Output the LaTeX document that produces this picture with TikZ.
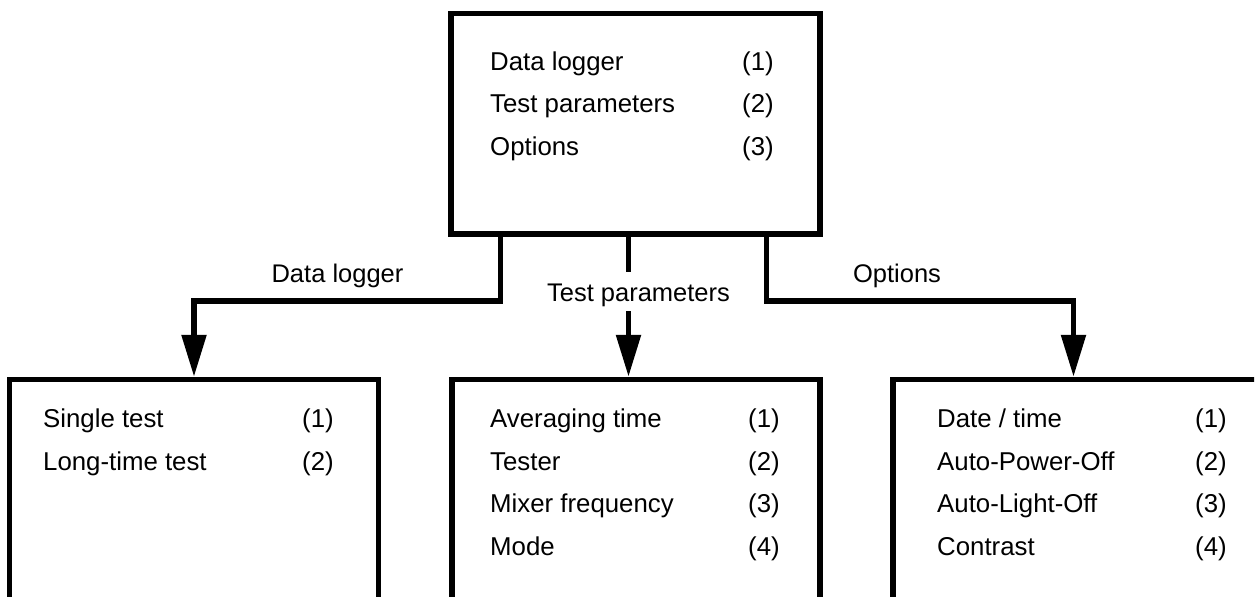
\documentclass[tikz,border=0pt]{standalone}
\usepackage{fontspec}
\setmainfont{Liberation Sans}
\usetikzlibrary{arrows.meta}
\begin{document}
\begin{tikzpicture}[x=1pt,y=-1pt,
  box/.style={draw, line width=5.5pt, rectangle, inner sep=0pt},
  conn/.style={draw, line width=5.5pt, line join=miter},
  arr/.style={conn, -{Triangle[length=42pt,width=24pt]}},
  item/.style={anchor=base west, inner sep=0pt, font=\fontsize{25.8}{30}\selectfont},
  lbl/.style={anchor=base, inner sep=0pt, font=\fontsize{25.5}{30}\selectfont}]
\path[use as bounding box] (0,0) rectangle (1259,597);
\begin{scope}
\clip (0,0) rectangle (1254,597);
% boxes
\node[box, minimum width=369pt, minimum height=220.5pt] (top) at (635.5,123.75) {};
\node[box, minimum width=369pt, minimum height=270.5pt] (left) at (194,514.75) {};
\node[box, minimum width=368pt, minimum height=270.5pt] (mid) at (636,514.75) {};
\node[box, minimum width=365pt, minimum height=270.5pt] (right) at (1075.5,514.75) {};
% top items
\node[item] (a1) at (490,70) {Data logger};
\node[item] (a1n) at (742,70) {(1)};
\node[item] (a2) at (490,112.5) {Test parameters};
\node[item] (a2n) at (742,112.5) {(2)};
\node[item] (a3) at (490,155) {Options};
\node[item] (a3n) at (742,155) {(3)};
% left items
\node[item] (b1) at (43,427) {Single test};
\node[item] (b1n) at (302,427) {(1)};
\node[item] (b2) at (43,470) {Long-time test};
\node[item] (b2n) at (302,470) {(2)};
% middle items
\node[item] (c1) at (490,427) {Averaging time};
\node[item] (c1n) at (748,427) {(1)};
\node[item] (c2) at (490,470) {Tester};
\node[item] (c2n) at (748,470) {(2)};
\node[item] (c3) at (490,512.5) {Mixer frequency};
\node[item] (c3n) at (748,512.5) {(3)};
\node[item] (c4) at (490,555) {Mode};
\node[item] (c4n) at (748,555) {(4)};
% right items
\node[item] (d1) at (937,427) {Date / time};
\node[item] (d1n) at (1195,427) {(1)};
\node[item] (d2) at (937,470) {Auto-Power-Off};
\node[item] (d2n) at (1195,470) {(2)};
\node[item] (d3) at (937,512.5) {Auto-Light-Off};
\node[item] (d3n) at (1195,512.5) {(3)};
\node[item] (d4) at (937,555) {Contrast};
\node[item] (d4n) at (1195,555) {(4)};
% connector labels
\node[lbl] (l1) at (337.5,282) {Data logger};
\node[lbl, text height=29pt, text depth=10pt] (l2) at (638.5,301) {Test parameters};
\node[lbl] (l3) at (897,282) {Options};
% connectors
\coordinate (la) at (500.5,301);
\coordinate (ra) at (766.5,301);
\coordinate (mx) at (628.5,0);
\coordinate (rx) at (1073.5,0);
\draw[arr] (top.south -| la) -- (la) -| (left.north);
\draw[conn] (top.south -| mx) -- (l2.north -| mx);
\draw[arr] (l2.south -| mx) -- (mid.north -| mx);
\draw[arr] (top.south -| ra) -- (ra) -| (right.north -| rx);
\end{scope}
\end{tikzpicture}
\end{document}
